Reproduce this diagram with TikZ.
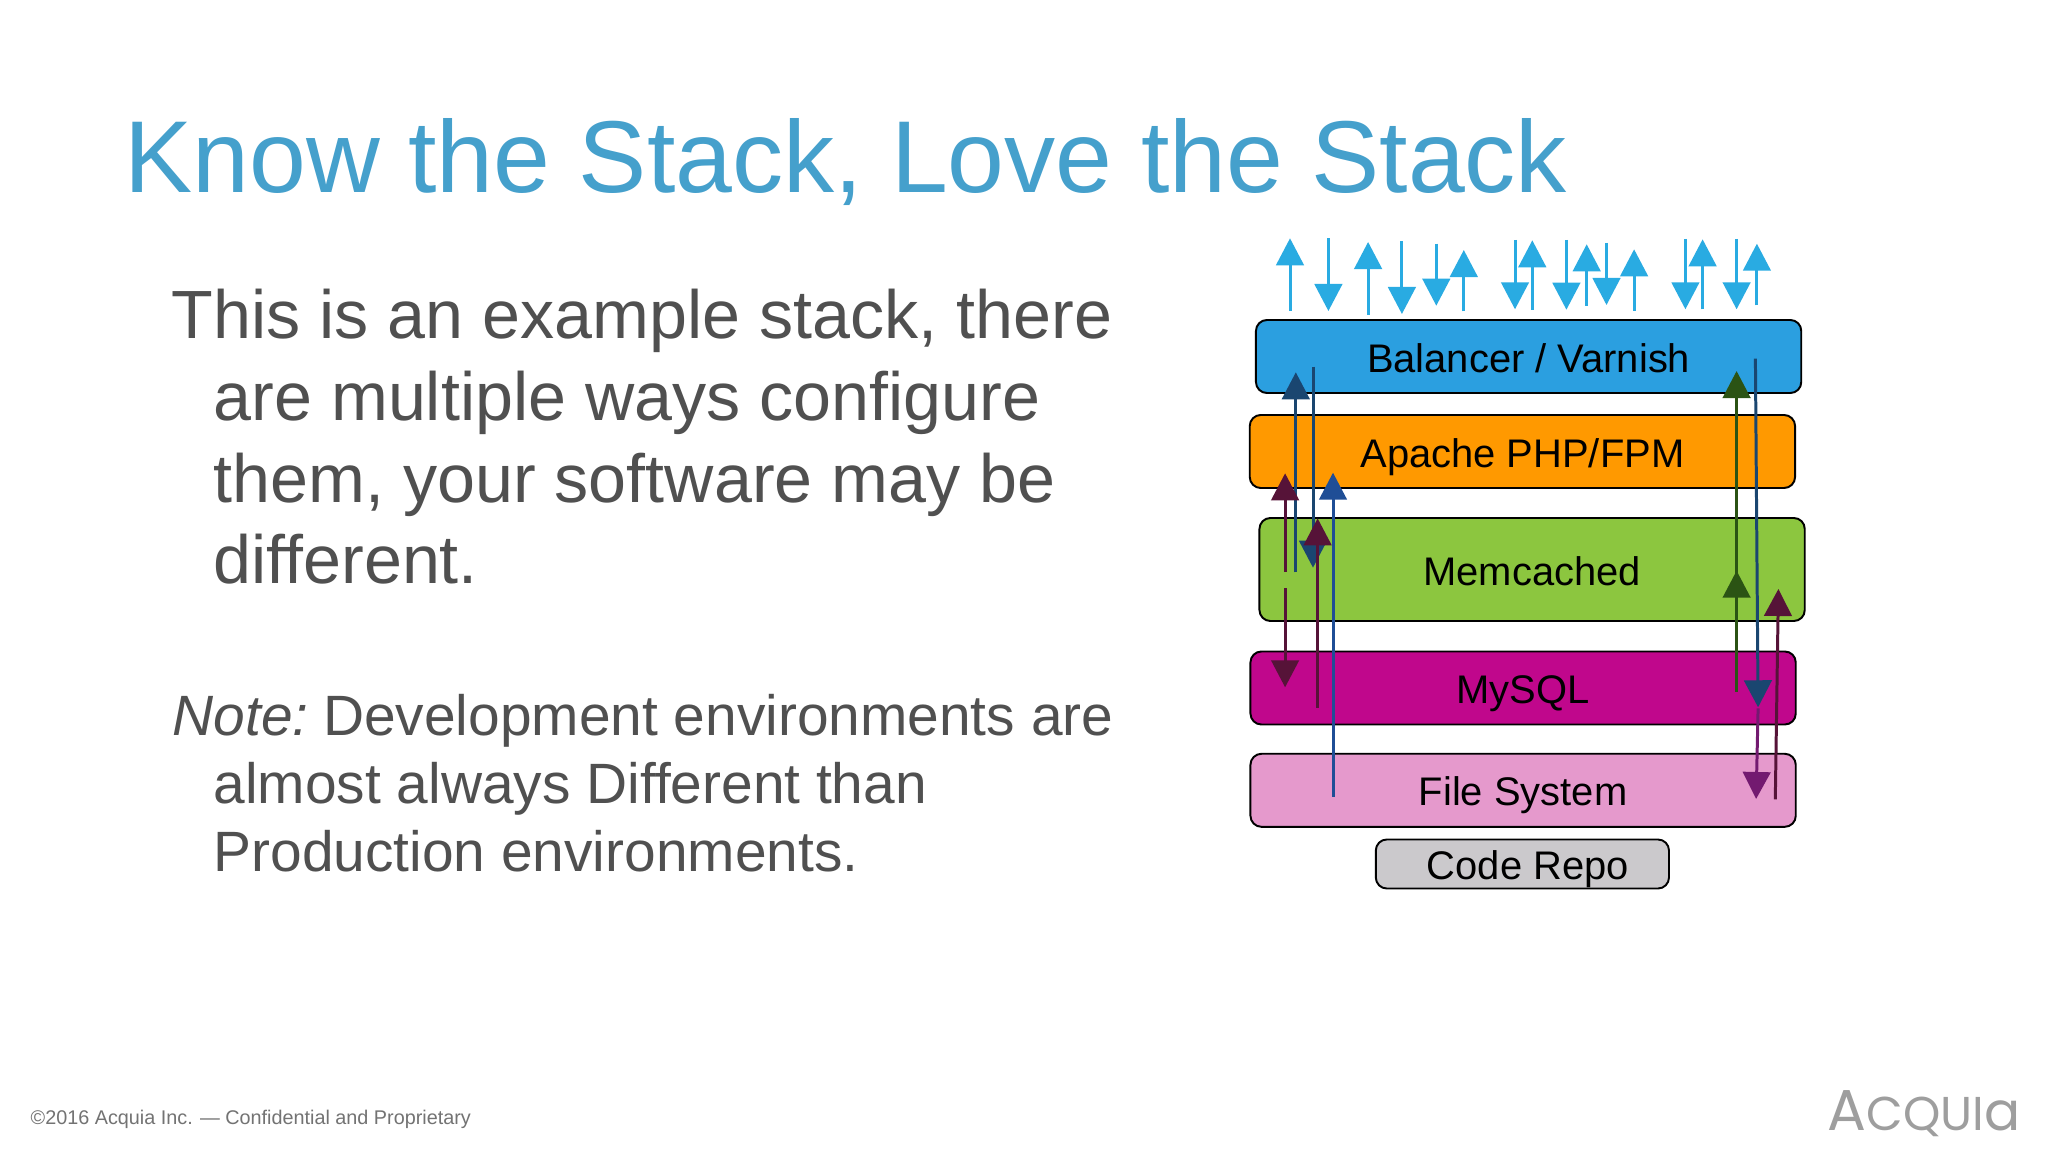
\documentclass[tikz,border=0pt]{standalone}
\usepackage{fontspec}
\setmainfont{Liberation Sans}
\newfontfamily\logofont{Poppins}
\usepackage[HTML]{xcolor}
\usepackage{tikz}
\usetikzlibrary{arrows.meta}

\definecolor{titleblue}{HTML}{45A0CC}
\definecolor{bodygray}{HTML}{505050}
\definecolor{skyflow}{HTML}{29ABE2}
\definecolor{navyflow}{HTML}{1A4670}
\definecolor{blueflow}{HTML}{1F4E96}
\definecolor{maroonflow}{HTML}{561338}
\definecolor{greenflow}{HTML}{2B5314}
\definecolor{purpleflow}{HTML}{731A70}
\definecolor{balancerblue}{HTML}{2B9FE0}
\definecolor{apacheorange}{HTML}{FF9900}
\definecolor{memcachedgreen}{HTML}{8CC63F}
\definecolor{mysqlmagenta}{HTML}{C0078C}
\definecolor{filepink}{HTML}{E599CC}
\definecolor{repogray}{HTML}{CBC9CC}

\tikzset{
  layer/.style={draw=black,line width=0.55pt,rounded corners=0.11cm,inner sep=0pt,text=black,
    minimum width=5.45cm,minimum height=0.73cm,text height=0.36cm,text depth=0.05cm,
    font=\fontsize{11.35}{14}\selectfont},
  flow/.style={line width=0.85pt,-{Triangle[width=0.275cm,length=0.27cm]}},
  bodyline/.style={anchor=base west,inner sep=0pt,text=bodygray,font=\fontsize{19.4}{23}\selectfont},
  noteline/.style={anchor=base west,inner sep=0pt,text=bodygray,font=\fontsize{16.17}{19}\selectfont},
}

\begin{document}
\begin{tikzpicture}[x=0.01cm,y=-0.01cm]
\useasboundingbox[fill=white] (0,0) rectangle (2048,1152);

% title
\node[anchor=base west,inner sep=0pt,text=titleblue,font=\fontsize{29.05}{34}\selectfont] (title) at (124,193) {Know the Stack, Love the Stack};

% left text
\node[bodyline] (body1) at (171,338.5) {This is an example stack, there};
\node[bodyline] (body2) at (213,420.5) {are multiple ways configure};
\node[bodyline] (body3) at (213,502.5) {them, your software may be};
\node[bodyline] (body4) at (213,583.5) {different.};
\node[noteline] (note1) at (172,735.3) {\textit{Note:}\hspace{-0.065cm} Development environments are};
\node[noteline] (note2) at (213,803.3) {almost always Different than};
\node[noteline] (note3) at (213,871.3) {Production environments.};

% layers
\node[layer,fill=balancerblue] (balancer) at (1528.6,356.5) {Balancer / Varnish};
\node[layer,fill=apacheorange] (apache) at (1522.4,451.5) {Apache PHP/FPM};
\node[layer,fill=memcachedgreen,minimum height=1.03cm] (memcached) at (1532.1,569.5) {Memcached};
\node[layer,fill=mysqlmagenta] (mysql) at (1523.1,688) {MySQL};
\node[layer,fill=filepink] (files) at (1523.1,790.3) {File System};
\node[layer,fill=repogray,minimum width=2.93cm,minimum height=0.49cm] (repo) at (1522.4,864) {\hspace*{0.11cm}Code Repo};

% client traffic above the stack
\foreach \i/\xx/\fromy/\toy in {1/1290/310.7/238.3, 2/1328.4/238.3/311, 3/1368.1/315/242, 4/1401.9/241.3/314,
    5/1436.3/243.7/305.7, 6/1463.8/311.3/250, 7/1515/240/309.3, 8/1532.3/310/240.3,
    9/1566.4/240/309.7, 10/1586.7/306/244.3, 11/1606.5/243/305, 12/1634.1/310.7/249.3,
    13/1685.4/239/309.3, 14/1702.6/309.3/239.3, 15/1736.6/239/309.3, 16/1756.9/305.3/243.7}{
  \coordinate (top\i a) at (\xx,\fromy);
  \coordinate (top\i b) at (\xx,\toy);
  \draw[flow,skyflow] (top\i a) -- (top\i b);
}

% left side traffic
\coordinate (leftA) at (1295.8,572.3);
\coordinate (leftB) at (1295.8,372.3);
\coordinate (leftC) at (1313,366.7);
\coordinate (leftD) at (1313,567.7);
\coordinate (leftE) at (1285.1,571.7);
\coordinate (leftF) at (1285.1,473.3);
\coordinate (leftG) at (1285.1,588.3);
\coordinate (leftH) at (1285.1,687.3);
\coordinate (leftI) at (1333,796.7);
\coordinate (leftJ) at (1333,472.7);
\coordinate (leftK) at (1317.6,707.7);
\coordinate (leftL) at (1317.6,518.3);
\draw[flow,navyflow] (leftA) -- (leftB);
\draw[flow,navyflow] (leftC) -- (leftD);
\draw[flow,maroonflow] (leftE) -- (leftF);
\draw[flow,maroonflow] (leftG) -- (leftH);
\draw[flow,blueflow] (leftI) -- (leftJ);
\draw[flow,maroonflow] (leftK) -- (leftL);

% right side traffic
\coordinate (rightA) at (1736.6,691.7);
\coordinate (rightB) at (1736.6,570.7);
\coordinate (rightC) at (1736.6,590);
\coordinate (rightD) at (1736.6,371);
\coordinate (rightE) at (1755.4,358.7);
\coordinate (rightF) at (1758.1,707.3);
\coordinate (rightG) at (1758.1,708.3);
\coordinate (rightH) at (1756.1,799);
\coordinate (rightI) at (1775.3,799.3);
\coordinate (rightJ) at (1778.4,589);
\draw[flow,greenflow] (rightA) -- (rightB);
\draw[flow,greenflow] (rightC) -- (rightD);
\draw[flow,purpleflow] (rightG) -- (rightH);
\draw[flow,navyflow] (rightE) -- (rightF);
\draw[flow,maroonflow] (rightI) -- (rightJ);

% footer
\node[anchor=base west,inner sep=0pt,text=black!55,font=\fontsize{5.63}{7}\selectfont] (footer) at (30,1124.5) {©2016 Acquia Inc. — Confidential and Proprietary};
\node[anchor=base east,inner sep=0pt,text=black!38,font=\logofont\fontsize{16.4}{18}\selectfont] (logo) at (2021,1130) {A\fontsize{13.5}{16}\selectfont CQUI\fontsize{15.2}{18}\selectfont a};
\end{tikzpicture}
\end{document}
